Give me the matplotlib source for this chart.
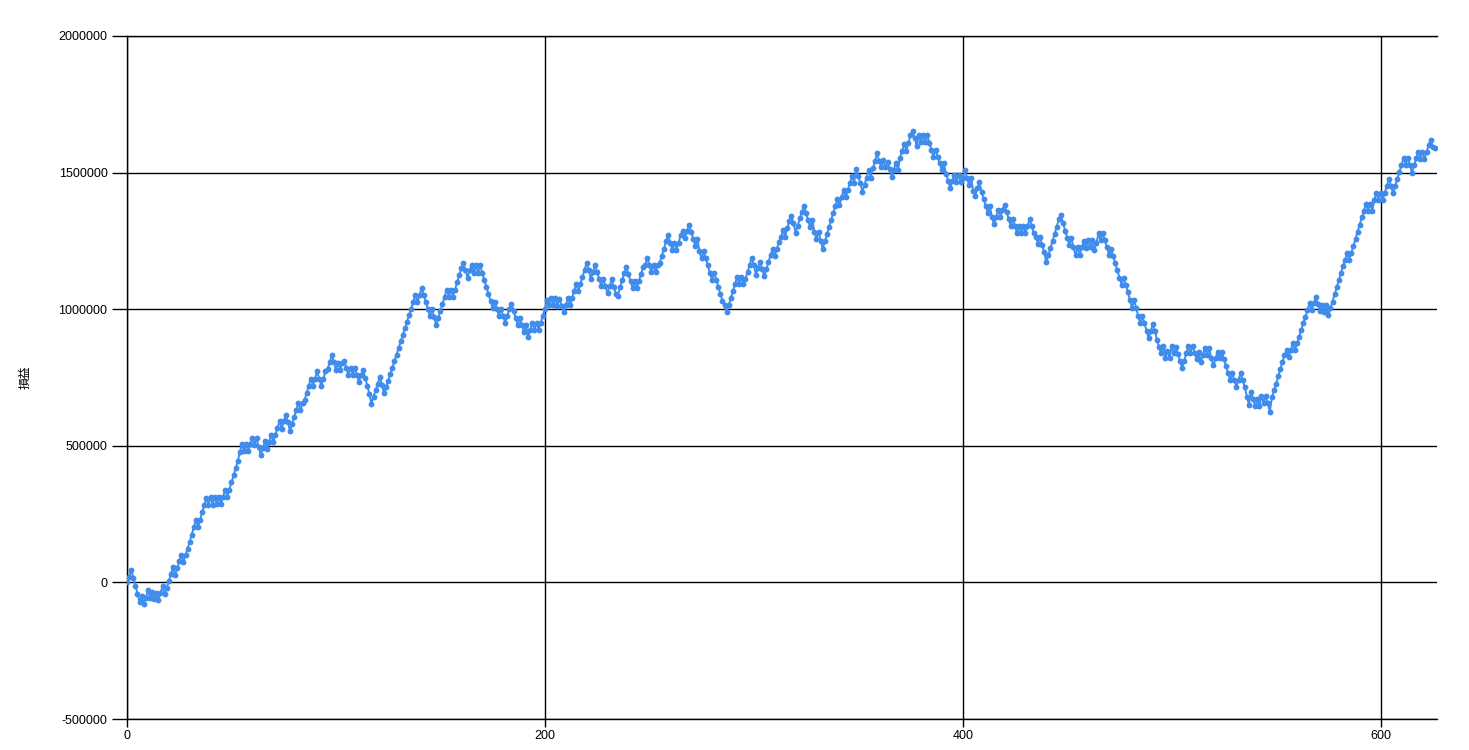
import matplotlib
matplotlib.use("Agg")
import matplotlib.pyplot as plt
import numpy as np

plt.rcParams['font.family'] = ['Liberation Sans', 'Noto Sans CJK JP', 'DejaVu Sans']
plt.rcParams['axes.unicode_minus'] = False

# profit/loss per trade (units of 10,000)
pl_10k = [
    0, 1.9, 4.6, 1.7, -1.2, -4.1, -7.2, -4.8, -7.8, -5.6,
    -2.9, -5.6, -3.5, -6.2, -3.9, -6.5, -4.0, -1.5, -4.4, -2.0,
    0.4, 3.2, 5.6, 2.7, 5.1, 7.8, 10.2, 7.4, 10.0, 12.4,
    14.9, 17.5, 20.2, 22.9, 20.3, 23.0, 25.7, 28.4, 31.0, 28.4,
    31.1, 28.5, 31.2, 28.6, 31.2, 28.8, 31.4, 34.0, 31.4, 34.0,
    36.6, 39.2, 41.8, 44.4, 47.6, 50.8, 48.0, 50.6, 48.0, 50.6,
    53.0, 50.4, 52.8, 49.6, 46.6, 49.2, 51.6, 48.8, 51.4, 54.0,
    51.4, 54.0, 56.6, 59.0, 56.3, 58.9, 61.4, 58.7, 55.5, 58.0,
    60.6, 63.2, 65.7, 63.0, 65.6, 66.8, 69.4, 72.0, 74.6, 72.0,
    74.6, 77.2, 74.6, 72.0, 74.6, 77.2, 78.0, 80.6, 83.2, 80.5,
    77.8, 80.4, 77.8, 80.4, 81.2, 78.5, 76.0, 78.6, 76.0, 78.6,
    76.0, 73.4, 76.0, 77.6, 75.0, 72.0, 69.0, 65.4, 68.0, 70.4,
    72.8, 75.2, 72.2, 69.2, 71.4, 73.8, 76.2, 78.6, 81.0, 83.4,
    85.8, 88.2, 90.6, 93.0, 95.4, 97.8, 100.2, 102.6, 105.2, 102.6,
    105.2, 107.8, 105.2, 102.6, 100.0, 97.4, 100.0, 97.2, 94.2, 96.8,
    99.4, 102.0, 104.6, 107.2, 104.6, 107.2, 104.6, 107.2, 109.8, 112.4,
    115.0, 117.0, 114.2, 111.6, 114.2, 116.0, 113.4, 116.0, 113.4, 116.0,
    113.4, 110.8, 108.2, 105.6, 103.0, 100.4, 102.8, 100.2, 97.6, 100.2,
    97.6, 95.0, 97.6, 100.2, 102.0, 99.4, 96.8, 94.2, 96.8, 94.2,
    91.6, 94.2, 89.8, 92.4, 95.0, 92.4, 95.0, 92.4, 95.0, 97.6,
    100.2, 103.2, 101.5, 104.1, 101.4, 104.0, 101.3, 103.8, 101.2, 98.8,
    101.4, 104.0, 101.4, 104.0, 106.6, 109.2, 106.6, 109.2, 111.8, 114.4,
    117.0, 114.4, 111.0, 113.6, 116.2, 113.6, 111.0, 108.4, 111.0, 108.4,
    105.8, 108.4, 111.0, 108.2, 105.6, 105.0, 108.0, 110.6, 113.2, 115.4,
    112.8, 110.2, 107.6, 110.2, 107.6, 110.2, 112.8, 115.4, 116.0, 118.8,
    116.2, 113.6, 116.2, 113.6, 116.2, 117.0, 119.6, 122.2, 124.8, 127.2,
    124.4, 121.8, 124.4, 121.8, 124.4, 127.0, 128.6, 126.0, 128.6, 131.0,
    128.4, 125.8, 123.2, 125.8, 121.2, 118.6, 121.2, 118.6, 116.0, 113.4,
    110.8, 113.4, 110.8, 108.2, 105.6, 103.0, 101.4, 98.8, 101.4, 104.0,
    106.6, 109.2, 111.8, 109.2, 111.8, 109.2, 111.0, 113.6, 116.2, 118.8,
    116.2, 112.6, 115.2, 117.4, 114.8, 112.0, 114.6, 117.2, 119.8, 122.0,
    119.4, 122.0, 124.6, 126.4, 129.0, 126.4, 129.6, 132.2, 134.0, 131.4,
    128.0, 130.6, 133.2, 135.6, 137.8, 135.2, 132.6, 130.0, 132.6, 128.4,
    125.8, 128.4, 125.0, 122.2, 124.8, 127.4, 130.0, 132.6, 135.2, 137.8,
    140.4, 138.0, 141.0, 143.6, 141.0, 143.6, 146.2, 148.8, 146.2, 151.4,
    148.8, 146.2, 143.0, 145.6, 148.2, 150.8, 148.2, 151.6, 154.2, 157.0,
    154.4, 152.0, 154.6, 152.0, 154.0, 151.4, 148.4, 151.0, 153.6, 151.0,
    155.4, 158.0, 160.6, 158.0, 161.0, 163.6, 165.4, 162.8, 159.6, 163.8,
    161.2, 163.8, 161.2, 163.6, 161.0, 158.4, 155.8, 158.4, 155.8, 153.4,
    150.8, 153.4, 149.6, 147.0, 144.4, 147.0, 149.2, 146.6, 149.2, 146.6,
    148.0, 150.8, 148.2, 145.6, 148.2, 143.4, 141.6, 144.2, 146.6, 143.0,
    140.4, 137.8, 135.2, 137.8, 133.6, 131.2, 133.8, 136.4, 133.8, 136.4,
    138.2, 135.6, 133.0, 130.4, 133.0, 130.4, 127.8, 130.4, 127.8, 130.4,
    127.8, 130.4, 133.0, 130.4, 127.8, 126.4, 124.0, 126.6, 123.4, 120.8,
    117.2, 119.8, 122.4, 125.0, 127.6, 130.2, 133.0, 134.6, 131.6, 128.8,
    126.2, 123.6, 126.2, 122.6, 120.0, 122.6, 120.0, 122.6, 125.0, 122.4,
    125.2, 122.6, 125.2, 121.6, 124.2, 127.8, 125.2, 127.8, 125.2, 122.6,
    120.0, 122.0, 119.4, 116.8, 114.2, 111.6, 109.0, 111.6, 109.0, 106.4,
    103.4, 100.6, 103.2, 100.6, 97.4, 94.8, 97.4, 94.8, 92.0, 89.4,
    92.0, 94.6, 92.0, 88.6, 86.0, 84.0, 86.6, 82.2, 84.8, 82.2,
    86.4, 83.8, 86.2, 83.6, 81.0, 78.6, 81.2, 83.8, 86.4, 84.0,
    86.6, 84.0, 81.6, 84.2, 80.6, 83.2, 85.8, 83.2, 85.8, 82.0,
    79.4, 82.0, 84.4, 82.0, 84.4, 81.8, 79.2, 76.6, 74.0, 76.6,
    74.0, 71.6, 74.2, 76.6, 74.0, 71.4, 68.0, 65.0, 69.6, 67.0,
    64.4, 67.0, 64.4, 68.4, 65.8, 68.2, 65.6, 62.4, 67.8, 70.4,
    72.8, 75.4, 78.0, 80.6, 83.2, 85.0, 82.4, 85.0, 87.6, 85.0,
    87.6, 89.8, 92.4, 94.8, 97.2, 99.6, 102.2, 99.6, 102.2, 104.4,
    101.8, 99.2, 101.6, 99.0, 101.6, 97.8, 100.4, 102.8, 105.4, 108.0,
    110.6, 113.2, 115.8, 118.0, 120.6, 118.0, 120.6, 123.2, 125.8, 128.4,
    131.0, 133.6, 136.0, 138.6, 136.0, 138.6, 136.0, 140.0, 142.6, 140.0,
    142.6, 140.0, 142.6, 145.2, 147.6, 145.0, 142.4, 145.0, 147.6, 150.2,
    152.8, 155.4, 152.8, 155.4, 152.8, 150.0, 152.6, 155.2, 157.6, 155.0,
    157.6, 155.0, 157.6, 160.2, 162.0, 159.4, 159.0,
]

x_ticks = [0, 200, 400, 600]
y_ticks = [-500000, 0, 500000, 1000000, 1500000, 2000000]
y_label = "損益"

profit = np.array(pl_10k) * 10000
trades = np.arange(len(profit))

fig = plt.figure(figsize=(14.69, 7.5), dpi=100)
ax = fig.add_axes([127 / 1469, 31 / 750, 1310 / 1469, 683 / 750])

ax.plot(trades, profit, color="#3f8ced", lw=1.4, marker="o",
        markersize=4.2, markeredgewidth=0, zorder=3)

ax.set_xlim(0, 627)
ax.set_ylim(-500000, 2000000)
ax.set_xticks(x_ticks)
ax.set_yticks(y_ticks)
ax.set_yticklabels([str(v) for v in y_ticks])
ax.grid(True, color="black", lw=1)
ax.tick_params(direction="out", width=1, colors="black", labelsize=9)
ax.tick_params(axis="y", length=11, pad=3)
ax.tick_params(axis="x", length=6, pad=2)

ax.spines["right"].set_visible(False)
for s in ["left", "bottom", "top"]:
    ax.spines[s].set_color("black")
    ax.spines[s].set_linewidth(1)

ax.set_ylabel(y_label, fontsize=8.5, family=["Noto Sans CJK JP", "DejaVu Sans"])
ax.yaxis.set_label_coords(-0.073, 0.5)

fig.savefig("out.png", dpi=100)
